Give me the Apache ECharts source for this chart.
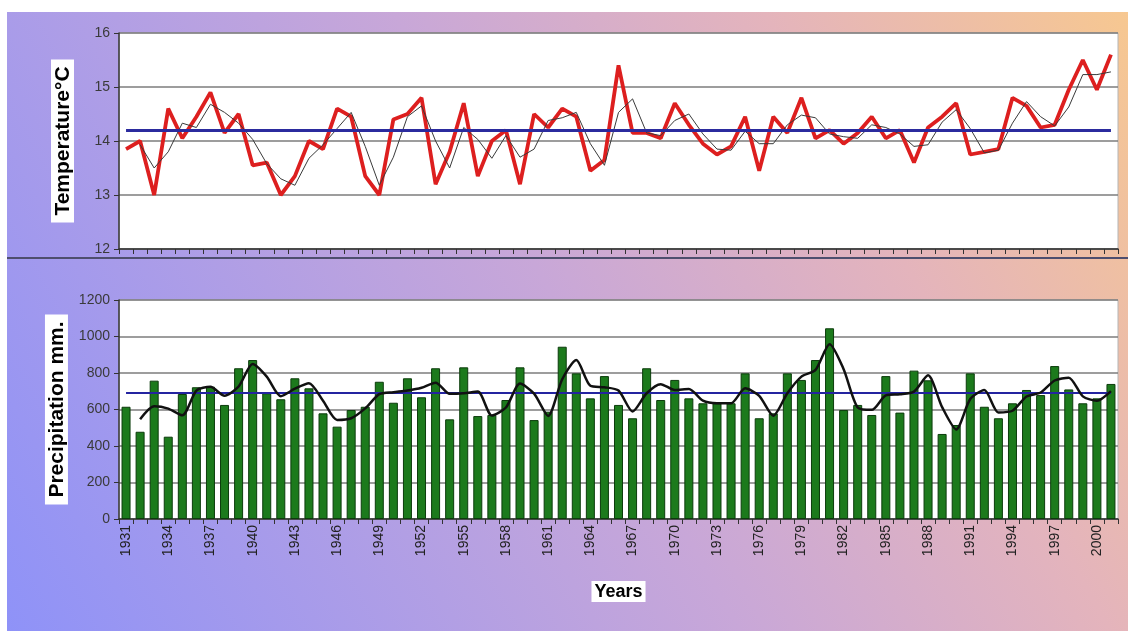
<!DOCTYPE html>
<html>
<head>
<meta charset="utf-8">
<style>
  html, body { margin: 0; padding: 0; background: #fff; }
  #chart { width: 1128px; height: 631px; }
</style>
<script src="https://cdn.jsdelivr.net/npm/echarts@6/dist/echarts.min.js"></script>
</head>
<body>
<div id="chart"></div>
<script>
// categories: one per year, 1931 - 2001
const years = [];
for (let y = 1931; y <= 2001; y++) years.push(String(y));

// mean annual temperature, °C
const temperature = [
  13.85, 14.0, 13.0, 14.6, 14.05, 14.45, 14.9, 14.15, 14.5, 13.55,
  13.6, 13.0, 13.35, 14.0, 13.85, 14.6, 14.45, 13.35, 13.0, 14.4,
  14.5, 14.8, 13.2, 13.8, 14.7, 13.35, 14.0, 14.2, 13.2, 14.5,
  14.25, 14.6, 14.45, 13.45, 13.65, 15.4, 14.15, 14.15, 14.05, 14.7,
  14.3, 13.95, 13.75, 13.9, 14.45, 13.45, 14.45, 14.15, 14.8, 14.05,
  14.2, 13.95, 14.15, 14.45, 14.05, 14.2, 13.6, 14.25, 14.45, 14.7,
  13.75, 13.8, 13.85, 14.8, 14.65, 14.25, 14.3, 14.95, 15.5, 14.95,
  15.6
];
// thin black trend line (2-year moving average)
const temperatureTrend = [
  null, 13.93, 13.5, 13.8, 14.33, 14.25, 14.68, 14.53, 14.33, 14.03,
  13.58, 13.3, 13.18, 13.68, 13.93, 14.23, 14.53, 13.9, 13.18, 13.7,
  14.45, 14.65, 14.0, 13.5, 14.25, 14.03, 13.68, 14.1, 13.7, 13.85,
  14.38, 14.43, 14.53, 13.95, 13.55, 14.53, 14.78, 14.15, 14.1, 14.38,
  14.5, 14.13, 13.85, 13.83, 14.18, 13.95, 13.95, 14.3, 14.48, 14.43,
  14.13, 14.08, 14.05, 14.3, 14.25, 14.13, 13.9, 13.93, 14.35, 14.58,
  14.23, 13.78, 13.83, 14.33, 14.73, 14.45, 14.28, 14.63, 15.23, 15.23,
  15.28
];
const temperatureMean = [14.2];

// annual precipitation, mm
const precipitation = [
  615, 478, 758, 451, 685, 722, 725, 625, 826, 871,
  689, 656, 771, 716, 579, 506, 597, 615, 752, 637,
  771, 667, 826, 546, 831, 564, 570, 652, 831, 542,
  588, 944, 798, 661, 783, 625, 552, 826, 652, 762,
  661, 634, 634, 634, 798, 552, 579, 798, 762, 871,
  1045, 597, 625, 570, 783, 583, 813, 760, 466, 515,
  798, 615, 552, 634, 707, 679, 838, 710, 634, 661,
  740
];
const precipitationTrend = [
  null, 547, 618, 605, 568, 704, 724, 675, 726, 849,
  780, 673, 714, 744, 648, 543, 552, 606, 684, 695,
  704, 719, 747, 686, 689, 698, 567, 611, 742, 687,
  565, 766, 871, 730, 722, 704, 589, 689, 739, 707,
  712, 648, 634, 634, 716, 675, 566, 689, 780, 817,
  958, 821, 611, 598, 677, 683, 698, 787, 613, 491,
  657, 707, 584, 593, 671, 693, 759, 774, 672, 648,
  701
];
const precipitationMean = [690];

const chart = echarts.init(document.getElementById('chart'));

const font = 'Liberation Sans, Arial, sans-serif';
const gridLine = { show: true, lineStyle: { color: '#7d7d7d', width: 1.5 } };
const axisBlack = { show: true, onZero: false, lineStyle: { color: '#333', width: 1.5 } };
const tickLabel = { fontFamily: font, fontSize: 14, color: '#3a3a3a', margin: 9, formatter: v => String(v) };
const boxName = { fontFamily: font, fontWeight: 'bold', fontSize: 21, color: '#000', backgroundColor: '#fff', padding: [2, 7, 0, 7] };

const options = {
  animation: false,
  backgroundColor: new echarts.graphic.LinearGradient(0, 1, 1, 0, [
    { offset: 0, color: '#8e92f8' },
    { offset: 0.5, color: '#c8a7d8' },
    { offset: 0.75, color: '#e4b4bc' },
    { offset: 1, color: '#f7c890' }
  ]),
  graphic: [
    // white margin on the left and top of the original picture
    { type: 'rect', shape: { x: 0, y: 0, width: 7, height: 631 }, style: { fill: '#fff' }, silent: true },
    { type: 'rect', shape: { x: 0, y: 0, width: 1128, height: 12 }, style: { fill: '#fff' }, silent: true },
    // divider between the two panels
    { type: 'line', shape: { x1: 7, y1: 258, x2: 1128, y2: 258 }, style: { stroke: '#4e4e6e', lineWidth: 2 }, silent: true }
  ],
  grid: [
    { left: 119, width: 999, top: 33, height: 216, show: true, backgroundColor: '#fff', borderColor: '#b5b5b5', borderWidth: 1 },
    { left: 119, width: 999, top: 300, height: 219, show: true, backgroundColor: '#fff', borderColor: '#b5b5b5', borderWidth: 1 }
  ],
  xAxis: [
    {
      type: 'category', gridIndex: 0, data: years, boundaryGap: true,
      axisLine: axisBlack,
      axisTick: { show: true, interval: 0, length: 5, lineStyle: { color: '#333' } },
      axisLabel: { show: false }
    },
    {
      type: 'category', gridIndex: 1, data: years, boundaryGap: true,
      name: 'Years', nameLocation: 'middle', nameGap: 62,
      nameTextStyle: { fontFamily: font, fontWeight: 'bold', fontSize: 18, color: '#000', backgroundColor: '#fff', padding: [2, 3, 1, 3] },
      axisLine: axisBlack,
      axisTick: { show: true, interval: 0, length: 5, lineStyle: { color: '#333' } },
      axisLabel: { interval: 2, rotate: 90, fontFamily: font, fontSize: 14, color: '#222', margin: 6 }
    }
  ],
  yAxis: [
    {
      type: 'value', gridIndex: 0, min: 12, max: 16, interval: 1,
      name: 'Temperature°C', nameLocation: 'middle', nameRotate: 90, nameGap: 45,
      nameTextStyle: boxName,
      axisLine: axisBlack,
      axisTick: { show: true, length: 5, lineStyle: { color: '#333' } },
      axisLabel: tickLabel,
      splitLine: gridLine
    },
    {
      type: 'value', gridIndex: 1, min: 0, max: 1200, interval: 200,
      name: 'Precipitation mm.', nameLocation: 'middle', nameRotate: 90, nameGap: 43,
      nameTextStyle: boxName,
      axisLine: axisBlack,
      axisTick: { show: true, length: 5, lineStyle: { color: '#333' } },
      axisLabel: tickLabel,
      splitLine: gridLine
    }
  ],
  series: [
    {
      name: 'Temperature', type: 'line', xAxisIndex: 0, yAxisIndex: 0,
      data: temperature, symbol: 'none', z: 3,
      lineStyle: { color: '#dd1f1f', width: 3.8 },
      markLine: {
        silent: true, symbol: 'none', label: { show: false },
        lineStyle: { color: '#2b2b9e', width: 3, type: 'solid' },
        data: [[
          { coord: [years[0], temperatureMean[0]] },
          { coord: [years[years.length - 1], temperatureMean[0]] }
        ]]
      }
    },
    {
      name: 'Temperature trend', type: 'line', xAxisIndex: 0, yAxisIndex: 0,
      data: temperatureTrend, symbol: 'none', z: 4,
      lineStyle: { color: '#3a3a3a', width: 1 }
    },
    {
      name: 'Precipitation', type: 'bar', xAxisIndex: 1, yAxisIndex: 1,
      data: precipitation, barWidth: '64%', z: 2,
      itemStyle: { color: '#1c7a1c', borderColor: '#0c3c0c', borderWidth: 1 }
    },
    {
      name: 'Precipitation trend', type: 'line', xAxisIndex: 1, yAxisIndex: 1,
      data: precipitationTrend, symbol: 'none', smooth: 0.25, z: 5,
      lineStyle: { color: '#111', width: 2.5 },
      markLine: {
        silent: true, symbol: 'none', label: { show: false },
        lineStyle: { color: '#2424a0', width: 2, type: 'solid' },
        data: [[
          { coord: [years[0], precipitationMean[0]] },
          { coord: [years[years.length - 1], precipitationMean[0]] }
        ]]
      }
    }
  ]
};

chart.setOption(options);
</script>
</body>
</html>
